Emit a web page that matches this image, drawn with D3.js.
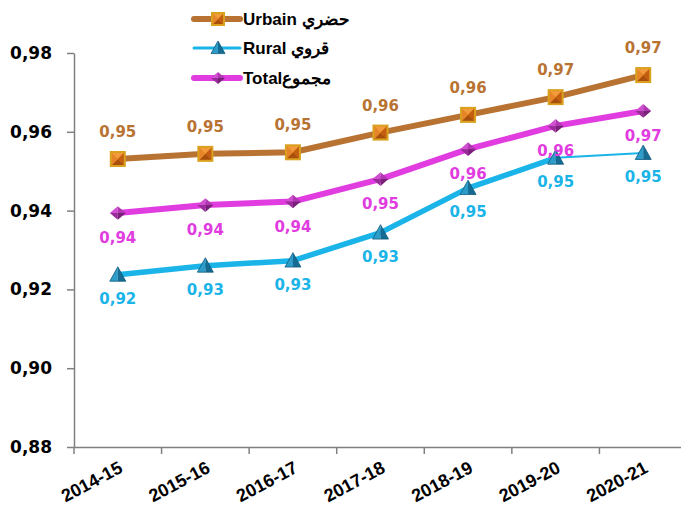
<!DOCTYPE html>
<html>
<head>
<meta charset="utf-8">
<script src="https://cdnjs.cloudflare.com/ajax/libs/d3/7.8.5/d3.min.js"></script>
<style>
  body { margin: 0; background: #fff; }
  svg { display: block; }
</style>
</head>
<body>
<div id="chart"></div>
<script>
var years = ["2014-15", "2015-16", "2016-17", "2017-18", "2018-19", "2019-20", "2020-21"];
var urbain = [0.9531, 0.9544, 0.9548, 0.9598, 0.9643, 0.9688, 0.9744];
var rural  = [0.9237, 0.9260, 0.9273, 0.9344, 0.9457, 0.9534, 0.9546];
var total  = [0.9394, 0.9414, 0.9423, 0.9480, 0.9556, 0.9615, 0.9653];
var yTicks = [0.88, 0.90, 0.92, 0.94, 0.96, 0.98];

var width = 681, height = 510;
var svg = d3.select("#chart").append("svg")
    .attr("width", width)
    .attr("height", height);

var x = d3.scaleBand().domain(years).range([74, 687]);
var y = d3.scaleLinear().domain([0.88, 0.98]).range([447, 53]);
var cx = function(d, i) { return x(years[i]) + x.bandwidth() / 2; };

var fr = d3.formatLocale({decimal: ",", thousands: ".", grouping: [3], currency: ["", ""]});
var fmt = fr.format(".2f");

// axes
var yAxis = svg.append("g")
    .attr("transform", "translate(74,0)")
    .call(d3.axisLeft(y).tickValues(yTicks).tickFormat(fmt).tickSize(7).tickSizeOuter(0));
yAxis.select(".domain").attr("stroke", "#808080").attr("stroke-width", 1.5);
yAxis.selectAll(".tick line").attr("stroke", "#808080").attr("stroke-width", 1.5);
yAxis.selectAll("text")
    .attr("x", -22)
    .attr("fill", "#000")
    .style("font-family", "DejaVu Sans")
    .style("font-weight", "bold")
    .style("font-size", "17px");

svg.append("line")
    .attr("x1", 74).attr("x2", 74).attr("y1", 447).attr("y2", 454)
    .attr("stroke", "#808080").attr("stroke-width", 1.5);

var xAxis = svg.append("g")
    .attr("transform", "translate(0,447)")
    .call(d3.axisBottom(x).tickSize(0).tickSizeOuter(0));
xAxis.select(".domain").attr("stroke", "#808080").attr("stroke-width", 1.5);
xAxis.selectAll(".tick line").remove();
xAxis.attr("font-size", null).attr("font-family", null);
xAxis.selectAll(".tick text")
    .attr("fill", "#000")
    .attr("text-anchor", "end")
    .attr("transform", "translate(3,19) rotate(-28)")
    .attr("y", 0).attr("dy", "0.35em")
    .attr("font-family", "Liberation Sans")
    .attr("font-weight", "bold")
    .attr("font-size", 18);

svg.append("g").selectAll("line")
    .data(years.slice(1))
    .join("line")
    .attr("x1", function(d) { return x(d); })
    .attr("x2", function(d) { return x(d); })
    .attr("y1", 447).attr("y2", 454)
    .attr("stroke", "#808080").attr("stroke-width", 1.5);

var line = d3.line().x(cx).y(function(d) { return y(d); });

function drawLine(data, color, w) {
    svg.append("path")
        .datum(data)
        .attr("fill", "none")
        .attr("stroke", color)
        .attr("stroke-width", w)
        .attr("stroke-linejoin", "round")
        .attr("d", line);
}

drawLine(urbain, "#b87333", 6);
drawLine(total, "#e03ce0", 6);
// rural: thick except for the last segment
svg.append("path")
    .attr("fill", "none").attr("stroke", "#1ab4e8").attr("stroke-width", 5.5)
    .attr("stroke-linejoin", "round")
    .attr("d", line(rural.slice(0, 6)));
svg.append("path")
    .attr("fill", "none").attr("stroke", "#1ab4e8").attr("stroke-width", 2)
    .attr("d", d3.line()
        .x(function(d, i) { return cx(d, i + 5); })
        .y(function(d) { return y(d); })(rural.slice(5)));

// markers
function squareMarker(g, s) {
    g.append("rect").attr("x", -s).attr("y", -s).attr("width", 2 * s).attr("height", 2 * s)
        .attr("fill", "#d9a11e");
    var i = s - 2;
    var f = [
        [[-i, -i], [i, -i], [0, 0], "#f29a3c"],
        [[i, -i], [i, i], [0, 0], "#c45d12"],
        [[i, i], [-i, i], [0, 0], "#a94e0c"],
        [[-i, i], [-i, -i], [0, 0], "#e7842a"]
    ];
    f.forEach(function(p) {
        g.append("path").attr("d", "M" + p[0] + "L" + p[1] + "L" + p[2] + "Z").attr("fill", p[3]);
    });
}
function triMarker(g, s) {
    g.append("path").attr("d", "M0," + (-s) + "L" + (-s) + "," + (s * 0.8) + "L0," + (s * 0.8) + "Z").attr("fill", "#2d9cc8");
    g.append("path").attr("d", "M0," + (-s) + "L" + s + "," + (s * 0.8) + "L0," + (s * 0.8) + "Z").attr("fill", "#156b91");
    g.append("path").attr("d", "M0," + (-s) + "L" + (-s) + "," + (s * 0.8) + "L" + s + "," + (s * 0.8) + "Z")
        .attr("fill", "none").attr("stroke", "#0f5b7d").attr("stroke-width", 0.8);
}
function diamondMarker(g, s) {
    var h = s * 0.85;
    g.append("path").attr("d", "M0,0L" + (-s) + ",0L0," + (-h) + "Z").attr("fill", "#d04fd0");
    g.append("path").attr("d", "M0,0L0," + (-h) + "L" + s + ",0Z").attr("fill", "#b136b1");
    g.append("path").attr("d", "M0,0L" + s + ",0L0," + h + "Z").attr("fill", "#7a1f7a");
    g.append("path").attr("d", "M0,0L0," + h + "L" + (-s) + ",0Z").attr("fill", "#9a2b9a");
}

function drawMarkers(data, fn, s) {
    svg.append("g").selectAll("g")
        .data(data)
        .join("g")
        .attr("transform", function(d, i) { return "translate(" + cx(d, i) + "," + y(d) + ")"; })
        .each(function() { fn(d3.select(this), s); });
}

drawMarkers(urbain, squareMarker, 8);
drawMarkers(rural, triMarker, 8);
drawMarkers(total, diamondMarker, 8);

// data labels
function drawLabels(data, color, dy) {
    svg.append("g").selectAll("text")
        .data(data)
        .join("text")
        .attr("x", cx)
        .attr("y", function(d) { return y(d) + dy; })
        .attr("text-anchor", "middle")
        .attr("fill", color)
        .style("font-family", "DejaVu Sans")
        .style("font-weight", "bold")
        .style("font-size", "15px")
        .text(fmt);
}
drawLabels(urbain, "#b87333", -22);
drawLabels(total, "#e03ce0", 30);
drawLabels(rural, "#1ab4e8", 29);

// legend
var legend = [
    {name: "Urbain حضري", color: "#b87333", w: 6, fn: squareMarker, y: 19},
    {name: "Rural قروي", color: "#1ab4e8", w: 3, fn: triMarker, y: 48},
    {name: "Totalمجموع", color: "#e03ce0", w: 6, fn: diamondMarker, y: 78}
];
var lg = svg.append("g").selectAll("g")
    .data(legend)
    .join("g")
    .attr("transform", function(d) { return "translate(0," + d.y + ")"; });
lg.append("line")
    .attr("x1", 194).attr("x2", 240)
    .attr("stroke", function(d) { return d.color; })
    .attr("stroke-width", function(d) { return d.w; })
    .attr("stroke-linecap", "round");
lg.append("g")
    .attr("transform", "translate(218,0)")
    .each(function(d) { d.fn(d3.select(this), 7); });
lg.append("text")
    .attr("x", 243)
    .attr("dy", "0.35em")
    .attr("fill", "#000")
    .style("font-family", "Liberation Sans")
    .style("font-weight", "bold")
    .style("font-size", "17px")
    .text(function(d) { return d.name; });
</script>
</body>
</html>
